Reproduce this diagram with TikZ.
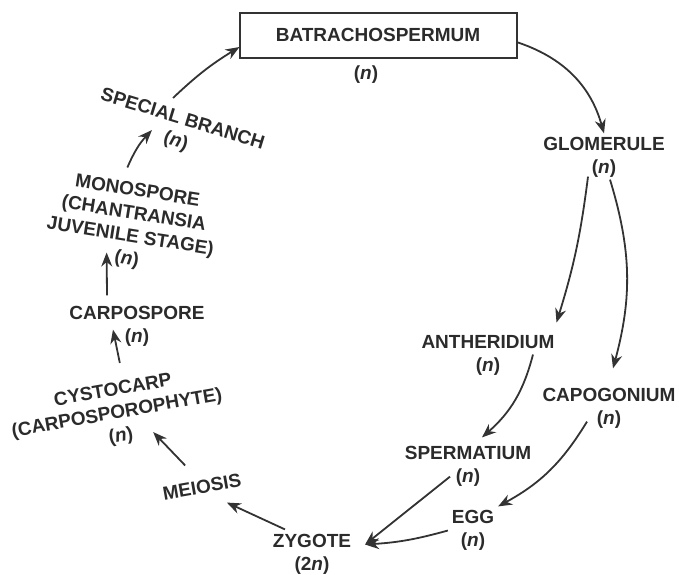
\documentclass[tikz,border=0pt]{standalone}
\usepackage{fontspec}
\setmainfont{Liberation Sans}
\usepackage{tikz}
\usetikzlibrary{calc,arrows.meta}
\usetikzlibrary{positioning}
\definecolor{lc-ink}{HTML}{2B2B2B}
\definecolor{lc-line}{HTML}{333333}

\begin{document}
\begin{tikzpicture}[x=0.5pt, y=0.5pt, >={Stealth[length=7pt,width=5.5pt]},
    stage/.style={font=\bfseries\fontsize{9.5}{11.5}\selectfont, text=lc-ink,
                  align=center, inner sep=0pt, outer sep=2pt},
    thallus/.style={stage, draw=lc-line, line width=1pt,
                    minimum width=138.5pt, minimum height=22.5pt, outer sep=0pt},
    cycle/.style={->, line width=0.9pt, draw=lc-line}]

    \useasboundingbox (0,0) rectangle (679,-574);

    % --- GAMETOPHYTE (n) ---
    \node[thallus] (batra) at (378,-35) {BATRACHOSPERMUM};
    \node[stage] (batran) at (366,-75) {(\textit{n})};

    \node[stage] (glom) at (604,-157.5) {GLOMERULE\\(\textit{n})};
    \node[stage] (anth) at (488,-355.5) {ANTHERIDIUM\\(\textit{n})};
    \node[stage] (capo) at (609,-408.5) {CAPOGONIUM\\(\textit{n})};
    \node[stage] (sperm) at (468,-466.5) {SPERMATIUM\\(\textit{n})};
    \node[stage] (egg) at (473,-530.5) {EGG\\(\textit{n})};
    \node[stage] (zyg) at (312,-554.5) {ZYGOTE\\(2\textit{n})};

    % --- RETURN PATH (rotated labels) ---
    \node[stage, rotate=10] (meio) at (202,-487) {MEIOSIS};
    \node[stage, rotate=10] (cyst) at (117,-414) {CYSTOCARP\\(CARPOSPOROPHYTE)\\(\textit{n})};
    \node[stage] (carp) at (137,-326.5) {CARPOSPORE\\(\textit{n})};
    \node[stage, rotate=-9] (mono) at (132,-226) {MONOSPORE\\(CHANTRANSIA\\JUVENILE STAGE)\\(\textit{n})};
    \node[stage, rotate=-17] (spec) at (179,-131) {SPECIAL BRANCH\\(\textit{n})};

    % --- ARROWS, clockwise from the thallus ---
    \draw[cycle] ([yshift=-3.5pt]batra.east) to[bend left=28] (glom.north);
    \draw[cycle] ([xshift=-8pt,yshift=2.5pt]glom.south) to[bend left=5] ([xshift=-1pt,yshift=4.5pt]anth.north east);
    \draw[cycle] ([xshift=3pt,yshift=1pt]glom.south) to[bend left=16] ([xshift=2pt,yshift=8pt]capo.north);
    \draw[cycle] ([xshift=22.5pt,yshift=12.5pt]anth.south) to[bend left=17] ([xshift=7pt,yshift=2.5pt]sperm.north);
    \draw[cycle] ([xshift=-11pt,yshift=5.5pt]capo.south) to[bend left=15] (egg.north east);
    \draw[cycle] ([xshift=-9pt,yshift=7pt]sperm.south) -- ([xshift=5pt,yshift=5pt]zyg.east);
    \draw[cycle] (egg.west) to[bend left=6] ([xshift=5pt,yshift=5pt]zyg.east);
    \draw[cycle] ([xshift=8pt,yshift=0.5pt]zyg.north west) -- ([xshift=11.5pt,yshift=-2.5pt]meio.south);
    \draw[cycle] ([xshift=-7.5pt,yshift=5.5pt]meio.north) -- ([xshift=15pt,yshift=8.5pt]cyst.south);
    \draw[cycle] ([xshift=4.5pt,yshift=8pt]cyst.north) -- ([xshift=-12pt,yshift=10.5pt]carp.south);
    \draw[cycle] ([xshift=-15pt,yshift=3.5pt]carp.north) -- ([xshift=-9pt,yshift=10pt]mono.south);
    \draw[cycle] ([xshift=-6pt,yshift=6pt]mono.north) to[bend left=10] ([xshift=-10pt,yshift=12pt]spec.south);
    \draw[cycle] ([xshift=-6.5pt,yshift=5pt]spec.north) to[bend left=6] ([yshift=-6pt]batra.west);

\end{tikzpicture}
\end{document}
